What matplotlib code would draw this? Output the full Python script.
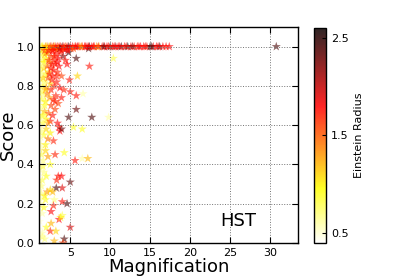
import numpy as np
import matplotlib
matplotlib.use("Agg")
import matplotlib.pyplot as plt

# lenses along the score = 1 ridge
top_mag = [1.2, 1.4, 1.5, 1.7, 1.9, 2.0, 2.2, 2.4, 2.5, 2.7, 2.9, 3.0, 3.2, 3.4,
           3.6, 3.8, 4.0, 4.2, 4.4, 4.6, 4.8, 5.0, 5.3, 5.6, 5.9, 6.2, 6.5, 6.8,
           7.1, 7.4, 7.7, 8.0, 8.3, 8.6, 9.0, 9.3, 9.6, 10.0, 10.3, 10.7, 11.0,
           11.4, 11.8, 12.2, 12.6, 13.0, 13.4, 13.8, 14.2, 14.6, 15.0, 15.4,
           15.8, 16.2, 16.6, 17.0, 17.4, 30.8,
           1.3, 1.6, 1.8, 2.1, 2.3, 2.6, 2.8, 3.1, 3.3, 3.5, 3.7, 3.9, 4.1, 4.3,
           4.5, 4.7, 5.1, 5.4, 5.7, 6.0, 6.4, 6.9, 7.3, 7.9, 8.5, 9.2, 9.8, 10.5,
           11.2, 12.0, 12.8, 13.6, 14.4, 15.2, 16.0]
top_score = [1.0] * 58 + [0.99, 0.99, 0.98, 0.99, 0.98, 0.99, 0.98, 0.99, 0.98, 0.99,
                          0.99, 0.98, 0.99, 0.99, 0.99, 0.98, 0.99, 0.99, 1.0, 1.0,
                          1.0, 1.0, 1.0, 1.0, 1.0, 1.0, 1.0, 1.0, 1.0, 1.0, 1.0,
                          1.0, 1.0, 1.0, 1.0]
top_rein = [0.6, 0.8, 1.0, 0.7, 1.3, 1.1, 1.5, 0.9, 1.7, 1.4, 1.8, 1.2, 1.75, 1.6,
            1.8, 1.7, 2.2, 1.8, 1.5, 1.75, 2.4, 1.8, 1.8, 1.6, 1.75, 1.4, 1.7, 1.8,
            1.8, 2.4, 1.75, 1.7, 1.3, 1.2, 1.75, 1.8, 1.8, 2.5, 1.75, 2.1, 1.8,
            2.4, 1.75, 2.5, 1.8, 1.75, 1.7, 1.8, 1.8, 1.75, 2.5, 1.8, 1.75, 2.4,
            1.8, 1.75, 1.8, 2.4,
            0.7, 1.2, 1.6, 1.0, 1.8, 1.5, 1.8, 1.7, 1.75, 1.4, 2.1, 1.8, 1.75, 1.6,
            1.8, 1.8, 1.75, 1.5, 1.8, 1.8, 1.3, 1.75, 1.8, 1.8, 1.7, 2.3, 1.75, 1.8,
            1.8, 1.75, 2.2, 1.8, 1.75, 2.4, 1.8]

# dense cluster at low magnification
mid_mag = [1.2, 1.3, 1.5, 1.6, 1.8, 2.0, 2.2, 2.4, 2.6, 2.8, 3.0, 3.2, 3.5, 3.8, 4.1,
           1.2, 1.4, 1.7, 1.9, 2.1, 2.3, 2.6, 2.9, 3.1, 3.4, 3.6, 3.9,
           1.3, 1.5, 1.8, 2.0, 2.2, 2.5, 2.7, 3.0, 3.3, 3.7, 4.2,
           1.2, 1.4, 1.6, 1.9, 2.1, 2.4, 2.6, 2.9, 3.2, 3.5, 3.9,
           1.3, 1.5, 1.8, 2.0, 2.3, 2.5, 2.8, 3.1, 3.4, 3.6, 3.7,
           1.2, 1.4, 1.7, 2.0, 2.2, 2.5, 2.9,
           1.1, 1.1, 1.2, 1.1, 1.3, 1.1, 1.4, 1.2,
           1.4, 1.7, 2.0, 2.3, 2.7, 3.0, 3.4, 1.3, 1.6, 2.4, 2.8, 3.3, 1.5, 1.9,
           2.6, 3.1, 1.2, 1.8, 2.2, 1.6, 1.3, 1.9, 1.1, 1.5, 1.2, 1.7]
mid_score = [0.98, 0.95, 0.97, 0.93, 0.96, 0.94, 0.97, 0.92, 0.95, 0.98, 0.93, 0.96, 0.94, 0.97, 0.95,
             0.90, 0.88, 0.89, 0.86, 0.90, 0.87, 0.89, 0.88, 0.91, 0.87, 0.90, 0.85,
             0.83, 0.80, 0.82, 0.79, 0.84, 0.81, 0.83, 0.80, 0.82, 0.79, 0.78,
             0.76, 0.73, 0.75, 0.72, 0.76, 0.74, 0.70, 0.73, 0.75, 0.71, 0.74,
             0.68, 0.65, 0.67, 0.63, 0.66, 0.62, 0.65, 0.68, 0.61, 0.59, 0.57,
             0.60, 0.57, 0.55, 0.58, 0.53, 0.56, 0.52,
             0.99, 0.92, 0.86, 0.78, 0.71, 0.64, 0.62, 0.52,
             0.96, 0.92, 0.97, 0.93, 0.91, 0.95, 0.92, 0.86, 0.84, 0.86, 0.85, 0.85, 0.77, 0.78,
             0.78, 0.72, 0.69, 0.70, 0.61, 0.61, 0.54, 0.50, 0.96, 0.90, 0.81, 0.65]
mid_rein = [0.6, 0.7, 0.9, 0.8, 1.2, 1.0, 1.4, 1.3, 1.6, 1.7, 1.7, 1.75, 1.8, 1.7, 2.2,
            0.5, 0.7, 1.1, 0.9, 1.5, 1.2, 1.7, 1.75, 1.7, 1.7, 1.8, 1.6,
            0.6, 0.9, 0.8, 1.3, 1.5, 1.1, 1.7, 1.7, 1.75, 1.8, 1.7,
            0.5, 0.8, 0.7, 1.0, 1.4, 1.3, 1.6, 1.7, 1.7, 1.6, 1.75,
            0.6, 0.9, 1.2, 1.0, 1.5, 1.7, 1.75, 1.6, 1.8, 1.75, 1.8,
            0.5, 0.7, 0.9, 1.1, 1.4, 1.0, 1.7,
            0.5, 0.6, 0.5, 0.6, 0.5, 0.7, 0.6, 0.5,
            0.8, 1.0, 1.3, 1.6, 1.75, 1.7, 1.8, 0.7, 1.1, 1.7, 1.75, 1.7, 0.8, 1.2,
            1.7, 1.7, 0.6, 0.9, 1.3, 0.8, 0.6, 1.0, 0.5, 0.7, 0.5, 0.8]

# sparse lower part
low_mag = [1.2, 1.4, 1.6, 1.9, 2.2, 2.5, 3.1, 4.25, 1.3, 1.7, 2.0, 1.2, 1.5, 3.5,
           3.9, 3.3, 4.0, 3.25, 5.0, 1.4, 1.8, 2.1, 2.5, 2.8, 3.0, 4.0, 4.6,
           1.3, 1.9, 2.9, 2.6, 4.0, 1.5, 3.6, 3.8, 1.2, 2.0, 2.6, 5.0, 2.5,
           1.5, 3.2, 1.8, 4.25, 3.0, 4.1, 1.1, 1.1, 1.2,
           1.3, 1.6, 1.1, 1.4, 1.2, 1.7, 1.1, 1.5]
low_score = [0.48, 0.45, 0.42, 0.47, 0.44, 0.40, 0.45, 0.46, 0.38, 0.36, 0.34, 0.30, 0.32, 0.34,
             0.34, 0.32, 0.28, 0.28, 0.31, 0.25, 0.24, 0.26, 0.27, 0.26, 0.22, 0.21, 0.20,
             0.20, 0.22, 0.19, 0.16, 0.14, 0.15, 0.12, 0.13, 0.11, 0.08, 0.10, 0.08, 0.06,
             0.05, 0.06, 0.02, 0.02, 0.01, 0.00, 0.43, 0.27, 0.17,
             0.50, 0.39, 0.36, 0.29, 0.23, 0.18, 0.07, 0.03]
low_rein = [0.6, 0.8, 0.7, 1.1, 1.3, 0.9, 1.7, 0.9, 0.6, 0.7, 0.9, 0.5, 0.8, 1.75,
            1.8, 1.7, 1.9, 2.4, 2.3, 0.7, 1.0, 1.3, 1.1, 1.2, 0.7, 1.75, 2.4,
            0.6, 0.9, 1.7, 1.8, 0.8, 0.6, 1.8, 1.0, 0.5, 0.9, 1.2, 1.9, 1.7,
            0.6, 1.1, 0.7, 2.4, 1.2, 1.6, 0.5, 0.6, 0.5,
            0.6, 0.8, 0.5, 0.7, 0.6, 0.9, 0.5, 0.7]

# scattered outliers
out_mag = [5.75, 7.4, 10.4, 5.9, 5.75, 6.6, 5.75, 7.7, 9.8, 6.5, 4.8, 3.9, 5.4,
           5.0, 4.9, 4.6, 4.4, 4.8, 7.3, 6.5, 5.6, 7.2]
out_score = [0.94, 0.90, 0.94, 0.85, 0.75, 0.76, 0.68, 0.64, 0.64, 0.58, 0.64, 0.58, 0.59,
             0.77, 0.83, 0.91, 0.93, 0.97, 0.99, 0.43, 0.42, 0.43]
out_rein = [2.4, 1.75, 0.8, 1.1, 1.75, 0.6, 2.3, 2.4, 0.6, 0.9, 2.4, 2.3, 0.9,
            1.75, 1.75, 1.8, 1.75, 2.4, 2.4, 0.6, 1.75, 1.2]

mag = np.array(low_mag + mid_mag + out_mag + top_mag)
score = np.array(low_score + mid_score + out_score + top_score)
rein = np.array(low_rein + mid_rein + out_rein + top_rein)

plt.rcParams['font.family'] = 'DejaVu Sans'
plt.rcParams['xtick.direction'] = 'in'
plt.rcParams['ytick.direction'] = 'in'

fig = plt.figure(figsize=(3.95, 2.78), dpi=100, facecolor='white')
ax = fig.add_axes([0.099, 0.126, 0.655, 0.777])
cax = fig.add_axes([0.795, 0.126, 0.031, 0.774])

sc = ax.scatter(mag, score, c=rein, cmap='hot_r', vmin=0.4, vmax=2.6,
                marker='*', s=48, alpha=0.6, edgecolors='none')

ax.set_xlim(1.1, 33.5)
ax.set_ylim(0, 1.1)
ax.set_xticks([5, 10, 15, 20, 25, 30])
ax.set_yticks([0.0, 0.2, 0.4, 0.6, 0.8, 1.0])
ax.tick_params(labelsize=8, top=True, right=True, length=4, width=0.8)
ax.grid(True, color='0.45', linestyle=':', linewidth=0.7)
for sp in ax.spines.values():
    sp.set_linewidth(1.0)
ax.set_xlabel("Magnification", fontsize=13, labelpad=0)
ax.set_ylabel("Score", fontsize=13, labelpad=0)
ax.yaxis.set_label_coords(-0.085, 0.5)
ax.text(26, 0.11, "HST", fontsize=13, ha='center', va='center')

cb = fig.colorbar(sc, cax=cax, ticks=[0.5, 1.5, 2.5])
cb.solids.set_alpha(0.85)
cb.ax.tick_params(labelsize=8, direction='in', length=3)
cb.set_label("Einstein Radius", fontsize=8)
cb.outline.set_linewidth(1.0)

fig.savefig("out.png", dpi=100, facecolor='white')
